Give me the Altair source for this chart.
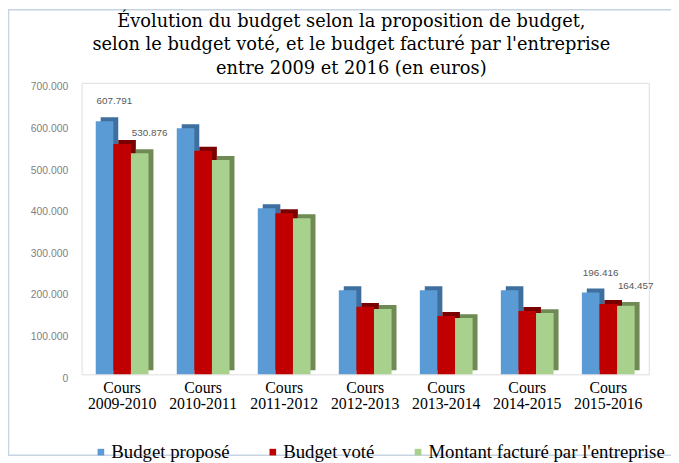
import altair as alt
import pandas as pd

courses = ["Cours 2009-2010", "Cours 2010-2011", "Cours 2011-2012", "Cours 2012-2013",
           "Cours 2013-2014", "Cours 2014-2015", "Cours 2015-2016"]
series = ["Budget proposé", "Budget voté", "Montant facturé par l'entreprise"]
propose = [607791, 591000, 399000, 202000, 202000, 202000, 196416]
vote = [553000, 537000, 387000, 162000, 140000, 152000, 169000]
facture = [530876, 515000, 375000, 157000, 135000, 147000, 164457]
front_colors = ["#5b9bd5", "#c00000", "#a9d18e"]
side_colors = ["#3f6f9e", "#7a0000", "#6f8a55"]
labels = {(0, 0): "607.791", (0, 2): "530.876", (6, 0): "196.416", (6, 2): "164.457"}

rows = []
for si, vals in enumerate([propose, vote, facture]):
    for ci, v in enumerate(vals):
        rows.append({"cours": courses[ci], "serie": series[si], "valeur": v,
                     "label": labels.get((ci, si), "")})
df = pd.DataFrame(rows)

SERIF = "Liberation Serif"
BAR_W = 17.8
offsets = [-BAR_W, 0, BAR_W]

x = alt.X("cours:N", sort=courses, title=None,
          scale=alt.Scale(paddingInner=0.35, paddingOuter=0.175),
          axis=alt.Axis(labelExpr="['Cours', slice(datum.value, 6)]", labelAngle=0,
                        labelFont=SERIF, labelFontSize=16, labelColor="#000000",
                        ticks=False, domain=False, labelPadding=5, labelLineHeight=17))
y = alt.Y("valeur:Q", title=None,
          scale=alt.Scale(domain=[0, 700000], nice=False),
          axis=alt.Axis(values=[0, 100000, 200000, 300000, 400000, 500000, 600000, 700000],
                        labelExpr="replace(format(datum.value, ','), ',', '.')",
                        labelFont="Liberation Sans", labelFontSize=10.5, labelColor="#7f7f7f",
                        ticks=False, domain=False, grid=False, labelPadding=14, labelOffset=4))

color = alt.Color("serie:N", sort=series,
                  scale=alt.Scale(domain=series, range=front_colors),
                  legend=alt.Legend(title=None, orient="none", legendX=10, legendY=364,
                                    direction="horizontal", symbolType="square",
                                    symbolSize=45, symbolStrokeWidth=0,
                                    labelFont=SERIF, labelFontSize=19, labelColor="#000000",
                                    labelOffset=1, columnPadding=34, labelLimit=400))

base = alt.Chart(df)
layers = []
border = alt.Chart(pd.DataFrame({"a": [0]})).mark_rect(
    fill=None, stroke="#c5d3e3", strokeWidth=1.5
).encode(x=alt.value(-74), x2=alt.value(640), y=alt.value(-74), y2=alt.value(377))
layers.append(border)

for si, s in enumerate(series):
    sub = base.transform_filter(alt.datum.serie == s)
    layers.append(sub.mark_bar(width=BAR_W, xOffset=offsets[si] + 5, yOffset=-4, y2Offset=-4,
                               color=side_colors[si]).encode(x=x, y=y))
for si, s in enumerate(series):
    sub = base.transform_filter(alt.datum.serie == s)
    layers.append(sub.mark_bar(width=BAR_W, xOffset=offsets[si]).encode(x=x, y=y, color=color))
for si, s in enumerate(series):
    sub = base.transform_filter((alt.datum.serie == s) & (alt.datum.label != ""))
    layers.append(sub.mark_text(font="Liberation Sans", fontSize=10, color="#595959",
                                xOffset=offsets[si] + 10, dy=-20).encode(x=x, y=y, text="label:N"))

chart = alt.layer(*layers).properties(
    width=574, height=295,
    autosize=alt.AutoSizeParams(type="none"),
    padding={"left": 74.5, "top": 73, "right": 22.5, "bottom": 87},
    title=alt.TitleParams(
        ["Évolution du budget selon la proposition de budget,",
         "selon le budget voté, et le budget facturé par l'entreprise",
         "entre 2009 et 2016 (en euros)"],
        font="DejaVu Serif", fontSize=18, fontWeight="normal", color="#000000",
        anchor="middle", dx=-14, offset=6, dy=76, lineHeight=24),
).configure_view(stroke=None).configure(background="#ffffff")

chart.save("out.html", embed_options={"renderer": "svg", "actions": False})
